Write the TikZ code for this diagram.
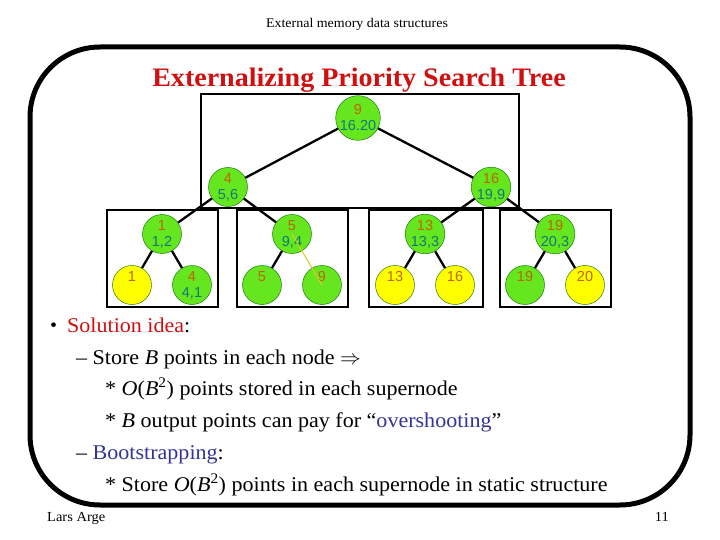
\documentclass[tikz,border=0pt]{standalone}
\usepackage{fontspec}
\setmainfont{Liberation Serif}[FakeStretch=1.05]
\newfontfamily\nodefont{Liberation Sans}
\usetikzlibrary{positioning}
\definecolor{nodegreen}{HTML}{66E61E}
\definecolor{leafyellow}{HTML}{FFFF00}
\definecolor{keycol}{HTML}{C06400}
\definecolor{ptcol}{HTML}{107878}
\definecolor{titlered}{HTML}{D01010}
\definecolor{textblue}{HTML}{333399}
\newcommand{\pstkey}[2]{\textcolor{keycol}{#1}\\\textcolor{ptcol}{#2}}
\newcommand{\bigO}{\textit{O}(\textit{B}\textsuperscript{2})}

\begin{document}
\begin{tikzpicture}[x=1pt, y=-1pt,
    pnode/.style={circle, draw=black!60!green, fill=nodegreen, minimum size=39pt,
      inner sep=0pt, align=center, font=\nodefont\fontsize{14.5}{16}\selectfont},
    leafnode/.style={pnode, fill=leafyellow},
    superbox/.style={draw, line width=2.5pt},
    edge/.style={line width=2.3pt},
    txt/.style={anchor=base west, inner sep=0pt, font=\fontsize{21}{24}\selectfont}]
    \useasboundingbox (0,0) rectangle (720,540);
    \draw[line width=5pt, rounded corners=70pt] (30,47) rectangle (690,505);
    \node[anchor=base, font=\fontsize{13.3}{15}\selectfont] (head) at (357,28) {External memory data structures};
    \node[anchor=base, text=titlered, font=\bfseries\fontsize{26.7}{30}\selectfont] (title) at (359,87) {Externalizing Priority Search Tree};

    \draw[superbox] (201,94) rectangle (519,208);
    \draw[superbox] (107,210) rectangle (218,307);
    \draw[superbox] (237,210) rectangle (348,307);
    \draw[superbox] (369,210) rectangle (483,307);
    \draw[superbox] (500,210) rectangle (611,307);

    \node[pnode] (n9) at (358,118) {\pstkey{9}{16.20}};
    \node[pnode] (n4) at (228,187) {\pstkey{4}{5,6}};
    \node[pnode] (n16) at (491,187) {\pstkey{16}{19,9}};
    \node[pnode] (n1) at (162,234) {\pstkey{1}{1,2}};
    \node[pnode] (n5) at (292,234) {\pstkey{5}{9,4}};
    \node[pnode] (n13) at (425,234) {\pstkey{13}{13,3}};
    \node[pnode] (n19) at (555,234) {\pstkey{19}{20,3}};
    \node[leafnode] (l1) at (132,285) {\pstkey{1}{\phantom{0}}};
    \node[pnode] (l4) at (192,285) {\pstkey{4}{4,1}};
    \node[pnode] (l5) at (262,285) {\pstkey{5}{\phantom{0}}};
    \node[pnode] (l9) at (322,285) {\pstkey{9}{\phantom{0}}};
    \node[leafnode] (l13) at (395,285) {\pstkey{13}{\phantom{0}}};
    \node[leafnode] (l16) at (455,285) {\pstkey{16}{\phantom{0}}};
    \node[pnode] (l19) at (525,285) {\pstkey{19}{\phantom{0}}};
    \node[leafnode] (l20) at (585,285) {\pstkey{20}{\phantom{0}}};

    \draw[edge] (n9) -- (n4);
    \draw[edge] (n9) -- (n16);
    \draw[edge] (n4) -- (n1);
    \draw[edge] (n4) -- (n5);
    \draw[edge] (n16) -- (n13);
    \draw[edge] (n16) -- (n19);
    \draw[edge] (n1) -- (l1);
    \draw[edge] (n1) -- (l4);
    \draw[edge] (n5) -- (l5);
    \draw[edge] (n13) -- (l13);
    \draw[edge] (n13) -- (l16);
    \draw[edge] (n19) -- (l19);
    \draw[edge] (n19) -- (l20);
    \draw[line width=1pt, yellow!85!black] (n5.center) -- (l9.center);
    \draw[line width=0.3pt, black!60, dotted] (n5.center) -- (l9.center);

    \node[anchor=base west, inner sep=0pt, font=\fontsize{19}{20}\selectfont] (b1) at (50,331) {\textbullet};
    \node[txt] (t1) at (67,332) {\textcolor{titlered}{Solution idea}:};
    \node[txt] (t2) at (76,364) {-- Store \textit{B} points in each node $\Rightarrow$};
    \node[txt] (t3) at (105,395) {* \bigO{} points stored in each supernode};
    \node[txt] (t4) at (105,427) {* \textit{B} output points can pay for ``\textcolor{textblue}{overshooting}''};
    \node[txt] (t5) at (76,459) {-- \textcolor{textblue}{Bootstrapping}:};
    \node[txt] (t6) at (105,491) {* Store \bigO{} points in each supernode in static structure};

    \node[anchor=base west, inner sep=0pt, font=\fontsize{13.8}{15}\selectfont] (foot) at (47,521) {Lars Arge};
    \node[anchor=base east, inner sep=0pt, font=\fontsize{13.8}{15}\selectfont] (page) at (669,521) {11};
\end{tikzpicture}
\end{document}
